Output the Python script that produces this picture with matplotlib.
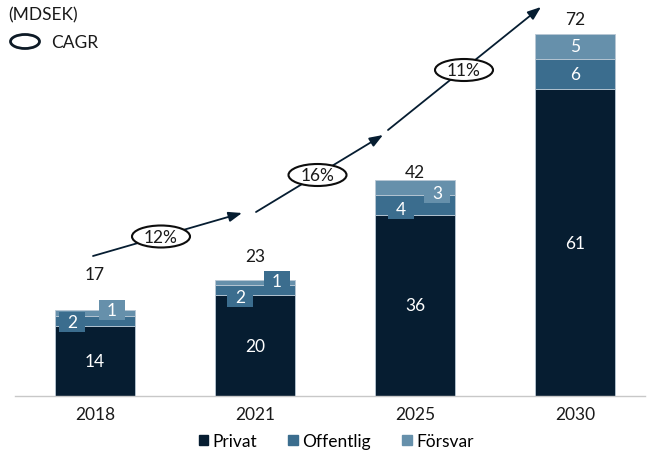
import numpy as np
import matplotlib.pyplot as plt
from matplotlib.patches import Ellipse, Patch, Rectangle

plt.rcParams['font.family'] = ['Lato', 'DejaVu Sans']

years = ['2018', '2021', '2025', '2030']
privat = [14, 20, 36, 61]
offentlig = [2, 2, 4, 6]
forsvar = [1, 1, 3, 5]
totals = [17, 23, 42, 72]
cagr = ['12%', '16%', '11%']

c_priv = '#061d31'
c_off = '#3b6d8e'
c_fors = '#6690ab'
edge = '#b9c8d4'
fs = 12.5

W, H = 649, 452
fig = plt.figure(figsize=(W / 100, H / 100), dpi=100)

# main axes: baseline at pixel 397, bars 160 px apart
ax = fig.add_axes([15 / W, (H - 397) / H, 630 / W, 397 / H])
ax.set_xlim(-0.5, 3.4375)
ax.set_ylim(0, 397 / 5.03)
x = np.arange(len(years))
bw = 0.5
priv = np.array(privat)
off = np.array(offentlig)
fors = np.array(forsvar)
ax.bar(x, priv, bw, color=c_priv, edgecolor=edge, linewidth=0.6)
ax.bar(x, off, bw, bottom=priv, color=c_off, edgecolor=edge, linewidth=0.6)
ax.bar(x, fors, bw, bottom=priv + off, color=c_fors, edgecolor=edge, linewidth=0.6)

for s in ['top', 'left', 'right']:
    ax.spines[s].set_visible(False)
ax.spines['bottom'].set_color('#c8c8c8')
ax.spines['bottom'].set_linewidth(1.0)
ax.set_yticks([])
ax.set_xticks(x)
ax.set_xticklabels(years, fontsize=fs, color='#1a1a1a')
ax.tick_params(axis='x', length=0, pad=7)

for i in range(len(years)):
    ax.text(x[i], priv[i] / 2, str(privat[i]), ha='center', va='center',
            color='white', fontsize=fs)
ax.text(x[3], priv[3] + off[3] / 2, str(offentlig[3]), ha='center', va='center',
        color='white', fontsize=fs)
ax.text(x[3], priv[3] + off[3] + fors[3] / 2, str(forsvar[3]), ha='center', va='center',
        color='white', fontsize=fs)

# overlay in pixel coordinates for callouts, arrows and ellipses
ov = fig.add_axes([0, 0, 1, 1], zorder=5)
ov.set_xlim(0, W)
ov.set_ylim(H, 0)
ov.axis('off')
ov.patch.set_alpha(0)

# totals above bars
total_y = [275, 257, 173, 20]
for i, ty in enumerate(total_y):
    ov.text(95 + 160 * i, ty, str(totals[i]), ha='center', va='center',
            color='#1a1a1a', fontsize=fs)

# small segments: labels in offset boxes (pixel centres)
box_pos = [(-23, 323, 17, 310.5), (-15, 298, 22, 282), (-14, 210, 22, 194)]
fors_box_col = [c_fors, c_off, c_fors]
for i, (dxo, yo, dxf, yf) in enumerate(box_pos):
    cx = 95 + 160 * i
    for bx, by, val, col in [(cx + dxo, yo, offentlig[i], c_off),
                             (cx + dxf, yf, forsvar[i], fors_box_col[i])]:
        ov.add_patch(Rectangle((bx - 13, by - 10), 26, 20, fc=col, ec='none'))
        ov.text(bx, by + 0.5, str(val), ha='center', va='center', color='white', fontsize=fs)

arrows = [((93, 257), (242, 214)), ((256, 213), (383, 136)), ((388, 131), (541, 8))]
ells = [(161, 237.5), (317.5, 176), (464, 71)]
for (p0, p1), (ex, ey), lab in zip(arrows, ells, cagr):
    ov.annotate('', xy=p1, xytext=p0,
                arrowprops=dict(arrowstyle='-|>,head_length=0.8,head_width=0.3',
                                color=c_priv, lw=1.3, shrinkA=0, shrinkB=0))
    ov.add_patch(Ellipse((ex, ey), 58, 22, fc='white', ec='#0d0d0d', lw=1.5, zorder=6))
    ov.text(ex, ey + 0.5, lab, ha='center', va='center', fontsize=fs, color='#1a1a1a', zorder=7)

# top-left notes
ov.text(8, 15, '(MDSEK)', ha='left', va='center', fontsize=fs, color='#1a1a1a')
ov.add_patch(Ellipse((25, 42.5), 29, 14, fc='white', ec='#0d1a26', lw=2.0))
ov.text(51, 42.5, 'CAGR', ha='left', va='center', fontsize=fs, color='#1a1a1a')

handles = [Patch(color=c_priv, label='Privat'), Patch(color=c_off, label='Offentlig'),
           Patch(color=c_fors, label='Försvar')]
fig.legend(handles=handles, loc='center', bbox_to_anchor=(336 / W, (H - 442) / H),
           ncol=3, frameon=False, fontsize=fs, handlelength=0.55, handleheight=0.55,
           handletextpad=0.25, columnspacing=1.8)

fig.savefig('out.png', dpi=100)
